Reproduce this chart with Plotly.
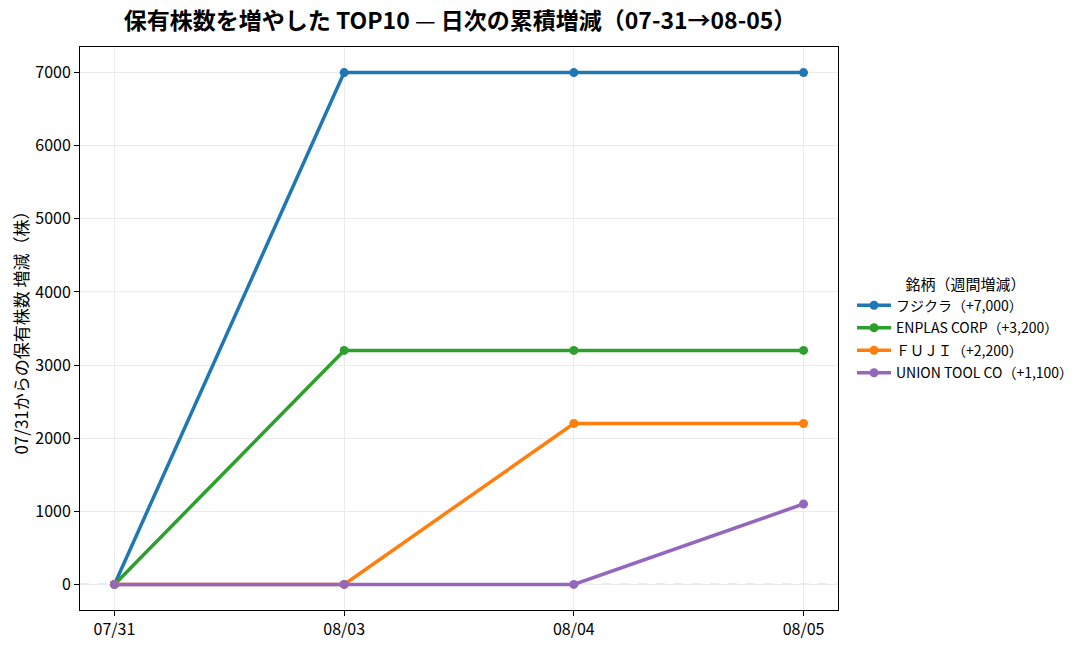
import plotly.graph_objects as go

# 日付（カテゴリ）
dates = ["07/31", "08/03", "08/04", "08/05"]

# 銘柄ごとの累積増減（株）
fujikura = [0, 7000, 7000, 7000]
enplas = [0, 3200, 3200, 3200]
fuji = [0, 0, 2200, 2200]
union_tool = [0, 0, 0, 1100]

names = ["フジクラ（+7,000）", "ENPLAS CORP（+3,200）", "ＦＵＪＩ（+2,200）", "UNION TOOL CO（+1,100）"]
series = [fujikura, enplas, fuji, union_tool]
colors = ["#1f77b4", "#2ca02c", "#ff7f0e", "#9467bd"]

FONT = "Noto Sans CJK JP"

# ページの body 余白（8px）分を差し引いたサイズ
W, H = 1080, 641

fig = go.Figure()

# 0 の基準線（破線）
fig.add_hline(y=0, line=dict(color="#b0b0b0", width=1.2, dash="dash"), layer="below")

for i, (name, vals, col) in enumerate(zip(names, series, colors)):
    fig.add_trace(go.Scatter(
        x=list(range(len(dates))), y=vals,
        mode="lines+markers",
        name=name,
        legendgroup=f"g{i}",
        line=dict(color=col, width=3.5),
        marker=dict(color=col, size=9),
    ))

fig.update_layout(
    width=W, height=H,
    template="none",
    paper_bgcolor="white",
    plot_bgcolor="white",
    font=dict(family=FONT, size=13, color="black"),
    margin=dict(l=72, r=250, t=39, b=39, autoexpand=False),
    title=dict(
        text="<b>保有株数を増やした TOP10 </b>—<b> 日次の累積増減（07-31→08-05）</b>",
        font=dict(family=FONT, size=23, color="black"),
        x=452 / W, xanchor="center",
        y=1 - 13 / H, yanchor="middle",
        automargin=False,
    ),
    legend=dict(
        title=dict(text="銘柄（週間増減）", side="top center", font=dict(size=15)),
        x=1.0185, xanchor="left",
        y=0.498, yanchor="middle",
        font=dict(size=14),
        bgcolor="rgba(0,0,0,0)",
        tracegroupgap=1.3,
        itemwidth=34,
    ),
)

fig.update_xaxes(
    tickmode="array",
    tickvals=list(range(len(dates))),
    ticktext=dates,
    range=[-0.15, 3.15],
    showgrid=True, gridcolor="#ebebeb", gridwidth=1,
    showline=True, linecolor="black", linewidth=1, mirror=True,
    ticks="outside", ticklen=5, tickcolor="black",
    tickfont=dict(size=16),
    zeroline=False,
    automargin=False,
)

fig.update_yaxes(
    range=[-350, 7350],
    tickmode="array",
    tickvals=[0, 1000, 2000, 3000, 4000, 5000, 6000, 7000],
    showgrid=True, gridcolor="#ebebeb", gridwidth=1,
    showline=True, linecolor="black", linewidth=1, mirror=True,
    ticks="outside", ticklen=5, tickcolor="black",
    tickfont=dict(size=16),
    zeroline=False,
    automargin=False,
    title=dict(text="07/31からの保有株数 増減（株）", font=dict(size=17), standoff=10),
)

fig.write_html("out.html")
